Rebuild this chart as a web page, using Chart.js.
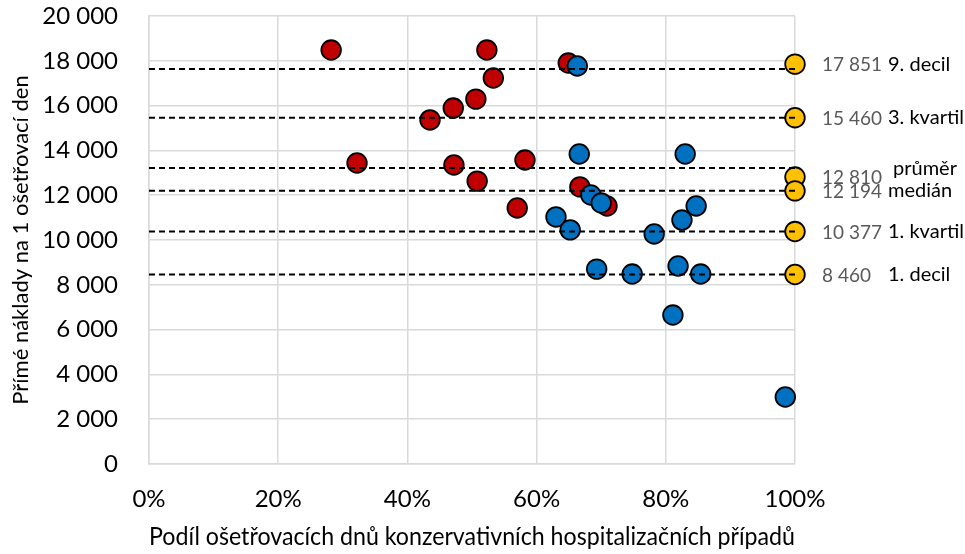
<!DOCTYPE html>
<html>
<head>
<meta charset="utf-8">
<script src="https://cdn.jsdelivr.net/npm/chart.js@4.4.1/dist/chart.umd.min.js"></script>
<style>
  html, body { margin: 0; padding: 0; background: #fff; }
  #wrap { width: 965px; height: 554px; position: relative; }
</style>
</head>
<body>
<div id="wrap"><canvas id="chart"></canvas></div>
<script>
/* scatter: share of conservative days vs direct cost per day */

const RED_X  = [28.2, 52.3, 64.9, 53.3, 50.6, 47.1, 43.5, 32.2, 47.2, 58.2, 50.8, 66.7, 57.0, 70.9];
const RED_Y  = [18480, 18480, 17900, 17230, 16290, 15890, 15360, 13440, 13350, 13570, 12630, 12370, 11430, 11520];

const BLUE_X = [66.3, 66.6, 83.0, 68.4, 70.0, 63.0, 65.2, 84.7, 82.5, 78.2, 69.3, 74.8, 81.9, 85.4, 81.1, 98.5];
const BLUE_Y = [17770, 13840, 13840, 12010, 11650, 11030, 10450, 11520, 10890, 10270, 8700, 8480, 8840, 8480, 6650, 2990];

const STAT_NAMES  = ['9. decil', '3. kvartil', 'průměr', 'medián', '1. kvartil', '1. decil'];
const STAT_VALUES = [17851, 15460, 12810, 12194, 10377, 8460];
const STAT_LINES  = [17630, 15460, 13210, 12194, 10377, 8460];

const X_TICKS = [0, 20, 40, 60, 80, 100];
const Y_MAX = 20000;
const Y_STEP = 2000;

const FONT = 'Lato, "Open Sans", sans-serif';

const fmt = v => String(v).replace(/\B(?=(\d{3})+(?!\d))/g, ' ');
const pts = (xs, ys) => xs.map((x, i) => ({ x, y: ys[i] }));

const lineSets = STAT_LINES.map(v => ({
  type: 'line',
  data: [{ x: 0, y: v }, { x: 100, y: v }],
  borderColor: '#000',
  borderWidth: 2,
  borderDash: [6, 4],
  pointRadius: 0,
  fill: false,
  clip: false,
}));

const statLabels = {
  id: 'statLabels',
  afterDatasetsDraw(chart) {
    const { ctx, scales: { y } } = chart;
    ctx.save();
    ctx.textBaseline = 'middle';
    STAT_VALUES.forEach((v, i) => {
      const py = y.getPixelForValue(v);
      ctx.font = '19px ' + FONT;
      ctx.fillStyle = '#595959';
      ctx.textAlign = 'left';
      ctx.fillText(fmt(v), 822, py + 1);
      ctx.font = '20px ' + FONT;
      ctx.fillStyle = '#000';
      const name = STAT_NAMES[i];
      const dy = name === 'průměr' ? -9 : 0;
      const nx = name === 'průměr' ? 893 : 888;
      ctx.fillText(name, nx, py + dy);
    });
    ctx.restore();
  },
};

const marker = (color) => ({
  backgroundColor: color,
  borderColor: '#000',
  borderWidth: 1.8,
  pointRadius: 9.8,
  pointHoverRadius: 9.8,
  clip: false,
});

new Chart(document.getElementById('chart'), {
  type: 'scatter',
  data: {
    datasets: [
      ...lineSets,
      { data: STAT_VALUES.map(v => ({ x: 100, y: v })), ...marker('#FFC000') },
      { data: pts(BLUE_X, BLUE_Y), ...marker('#0070C0') },
      { data: pts(RED_X, RED_Y), ...marker('#C00000') },
    ],
  },
  options: {
    responsive: true,
    maintainAspectRatio: false,
    animation: false,
    layout: { padding: { top: 0, right: 170, left: 0, bottom: 0 } },
    plugins: { legend: { display: false }, tooltip: { enabled: false } },
    scales: {
      x: {
        type: 'linear',
        min: 0, max: 100,
        afterBuildTicks: s => { s.ticks = X_TICKS.map(v => ({ value: v })); },
        afterFit: s => { s.height = 90; },
        grid: { color: '#D9D9D9', lineWidth: 1.5, drawTicks: false },
        border: { color: '#D9D9D9', width: 1.5 },
        ticks: {
          color: '#000', padding: 21, maxRotation: 0,
          font: { size: 24, family: FONT },
          callback: v => v + '%',
        },
        title: {
          display: true,
          text: 'Podíl ošetřovacích dnů konzervativních hospitalizačních případů',
          color: '#000',
          font: { size: 24.5, family: FONT },
          padding: { top: 4, bottom: 2 },
        },
      },
      y: {
        min: 0, max: Y_MAX,
        afterFit: s => { s.width = 149; s.paddingTop = 16; s.paddingBottom = 0; },
        grid: { color: '#D9D9D9', lineWidth: 1.5, drawTicks: false },
        border: { color: '#D9D9D9', width: 1.5 },
        ticks: {
          stepSize: Y_STEP, color: '#000', padding: 31,
          font: { size: 24, family: FONT },
          callback: v => fmt(v),
        },
        title: {
          display: true,
          text: 'Přímé náklady na 1 ošetřovací den',
          color: '#000',
          font: { size: 22, family: FONT },
          padding: { top: 8, bottom: 4 },
        },
      },
    },
  },
  plugins: [statLabels],
});
</script>
</body>
</html>
